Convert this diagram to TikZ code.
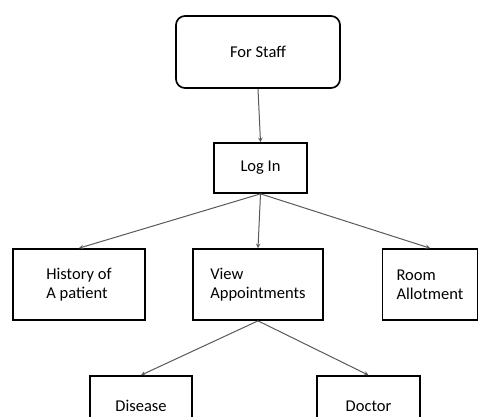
\documentclass[tikz,border=0pt]{standalone}
\usepackage{fontspec}
\setmainfont{Carlito}
\usetikzlibrary{shapes,arrows,positioning}

\begin{document}
\begin{tikzpicture}[
    x=1pt, y=-1pt,
    staffbox/.style={rectangle, draw, line width=1.7pt, rounded corners=9pt, minimum width=164pt, minimum height=72pt, font=\fontsize{16.5}{19}\selectfont},
    menubox/.style={rectangle, draw, line width=1.7pt, align=left, minimum height=71pt, font=\fontsize{16.5}{19}\selectfont},
    arrow/.style={->,>=stealth, line width=1pt, draw=gray!70!black}
]
    \useasboundingbox (0,0) rectangle (479,417);
    \clip (0,0) rectangle (479,417);

    % Haut
    \node[staffbox] (staff) at (258,52) {For Staff};
    \node[menubox, minimum width=93pt, minimum height=50pt] (login) at (260.5,168) {Log In};

    % Menu
    \node[menubox, minimum width=132pt] (history) at (79,284.5) {History of\\A patient};
    \node[menubox, minimum width=130pt] (view) at (258,284.5) {View\\Appointments};
    \node[menubox, minimum width=95pt] (room) at (430,284.5) {Room\\Allotment};

    % Rendez-vous
    \node[menubox, minimum width=102pt, minimum height=60pt] (disease) at (141,406) {Disease};
    \node[menubox, minimum width=103pt, minimum height=60pt] (doctor) at (368.5,406) {Doctor};

    % Flèches
    \draw[arrow] (staff.south) -- (login.north);
    \draw[arrow] (login.south) -- (history.north);
    \draw[arrow] (login.south) -- (view.north);
    \draw[arrow] (login.south) -- (room.north);
    \draw[arrow] (view.south) -- (disease.north);
    \draw[arrow] (view.south) -- (doctor.north);

\end{tikzpicture}
\end{document}
